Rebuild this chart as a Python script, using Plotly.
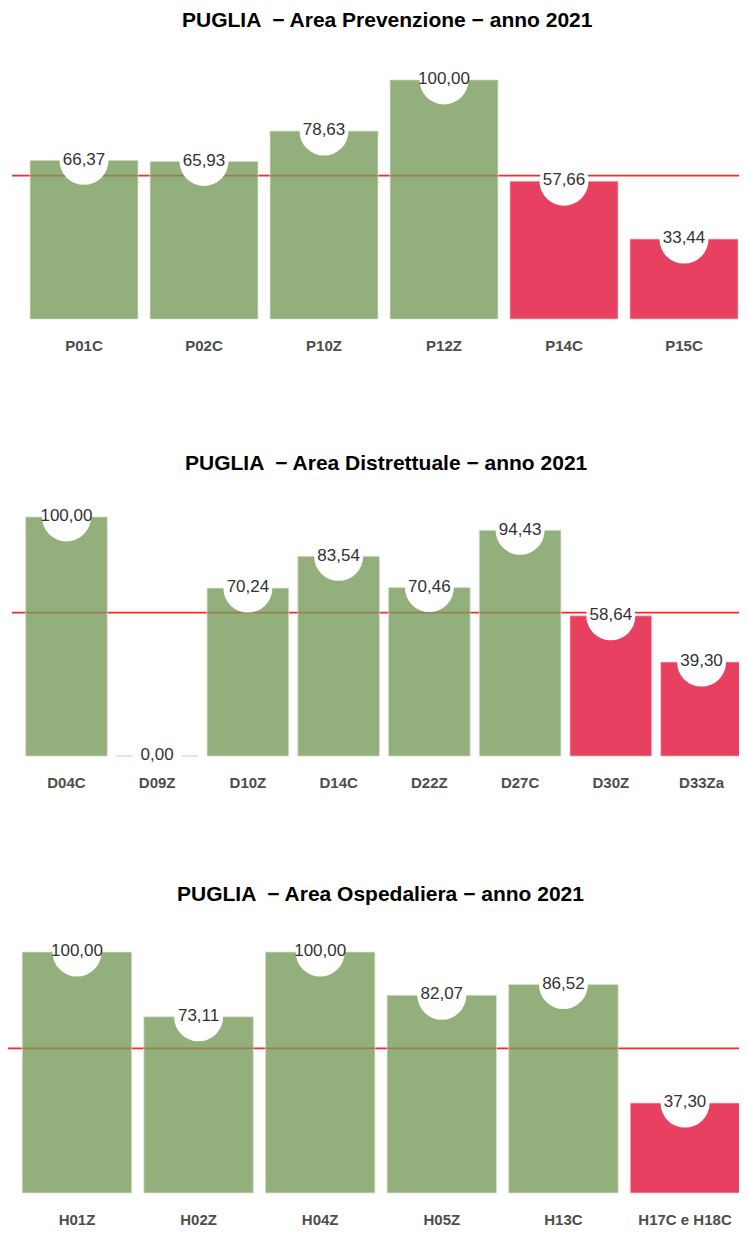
import plotly.graph_objects as go

# ---- data ----
prev_cats = ["P01C", "P02C", "P10Z", "P12Z", "P14C", "P15C"]
prev_vals = [66.37, 65.93, 78.63, 100.00, 57.66, 33.44]

dist_cats = ["D04C", "D09Z", "D10Z", "D14C", "D22Z", "D27C", "D30Z", "D33Za"]
dist_vals = [100.00, 0.00, 70.24, 83.54, 70.46, 94.43, 58.64, 39.30]

osp_cats = ["H01Z", "H02Z", "H04Z", "H05Z", "H13C", "H17C e H18C"]
osp_vals = [100.00, 73.11, 100.00, 82.07, 86.52, 37.30]

titles = [
    "PUGLIA  \u2212 Area Prevenzione \u2212 anno 2021",
    "PUGLIA  \u2212 Area Distrettuale \u2212 anno 2021",
    "PUGLIA  \u2212 Area Ospedaliera \u2212 anno 2021",
]
threshold = 60

# ---- style ----
OFF = 8  # page body margin
W, H = 747 - OFF, 1237 - 2 * OFF
GREEN = "rgba(120,155,90,0.8)"
RED = "rgba(226,16,56,0.8)"
GREEN_EDGE = "rgba(215,228,205,0.7)"
RED_EDGE = "rgba(248,190,200,0.7)"
FONT = "Liberation Sans, Arial, sans-serif"

# pixel layout in page coordinates (converted to figure coordinates below)
panels = [
    dict(cats=prev_cats, vals=prev_vals, ypx=(68, 331), xpx=(12, 756), title_y=20, title_x=387),
    dict(cats=dist_cats, vals=dist_vals, ypx=(505, 768), xpx=(12, 756), title_y=462, title_x=386),
    dict(cats=osp_cats, vals=osp_vals, ypx=(940, 1205), xpx=(4, 758), title_y=893, title_x=380),
]

fig = go.Figure()
layout = dict(
    width=W, height=H,
    margin=dict(l=0, r=0, t=0, b=0),
    paper_bgcolor="white", plot_bgcolor="white",
    showlegend=False,
    font=dict(family=FONT),
)
shapes = []
annotations = []

for i, p in enumerate(panels):
    n = i + 1
    xa = "x" if n == 1 else f"x{n}"
    ya = "y" if n == 1 else f"y{n}"
    cats, vals = p["cats"], p["vals"]
    ncat = len(cats)
    x0px, x1px = p["xpx"][0] - OFF, p["xpx"][1] - OFF
    y0px, y1px = p["ypx"][0] - OFF, p["ypx"][1] - OFF
    unit = (x1px - x0px) / (ncat + 0.2)
    x0c = max(x0px, 0)
    dom_x1 = min(x1px, W)
    xmin = -0.6 + (x0c - x0px) / unit
    xmax = -0.6 + (dom_x1 - x0px) / unit
    colors = [GREEN if v >= threshold else RED for v in vals]
    edges = [GREEN_EDGE if v >= threshold else RED_EDGE for v in vals]
    labels = [f"{v:.2f}".replace(".", ",") for v in vals]

    fig.add_trace(go.Bar(
        x=cats, y=vals, xaxis=xa, yaxis=ya, width=0.9,
        marker=dict(color=colors, line=dict(color=edges, width=1)),
        hoverinfo="x+y",
    ))
    fig.add_trace(go.Scatter(
        x=cats, y=vals, xaxis=xa, yaxis=ya, mode="markers",
        marker=dict(symbol="circle", size=49, color="white", line=dict(width=0)),
        hoverinfo="skip",
    ))
    fig.add_trace(go.Scatter(
        x=cats, y=vals, xaxis=xa, yaxis=ya, mode="text",
        text=labels, textposition="middle center",
        textfont=dict(size=17, color="#333333", family=FONT),
        hoverinfo="skip",
    ))

    ydom = [1 - y1px / H, 1 - y0px / H]
    xdom = [x0c / W, dom_x1 / W]
    layout["xaxis" if n == 1 else f"xaxis{n}"] = dict(
        domain=xdom, type="category", range=[xmin, xmax],
        showgrid=False, zeroline=False, showline=False, ticks="",
        ticklabelstandoff=4,
        tickfont=dict(size=15, color="#4D4D4D", family=FONT, weight="bold"),
        anchor=ya, fixedrange=True,
    )
    layout["yaxis" if n == 1 else f"yaxis{n}"] = dict(
        domain=ydom, range=[-5, 105], showgrid=False, zeroline=False,
        showline=False, showticklabels=False, ticks="", anchor=xa, fixedrange=True,
    )
    shapes.append(dict(
        type="line", xref=f"{xa} domain", yref=ya, x0=0, x1=1, y0=threshold, y1=threshold,
        line=dict(color="rgba(255,0,0,0.85)", width=1.6), layer="below",
    ))
    annotations.append(dict(
        text=f"<b>{titles[i]}</b>", xref="paper", yref="paper",
        x=(p["title_x"] - OFF) / W, y=1 - (p["title_y"] - OFF) / H,
        xanchor="center", yanchor="middle",
        showarrow=False, font=dict(size=21, color="black", family=FONT),
    ))

layout["shapes"] = shapes
layout["annotations"] = annotations
layout["bargap"] = 0.1
fig.update_layout(**layout)

fig.write_html("out.html")
